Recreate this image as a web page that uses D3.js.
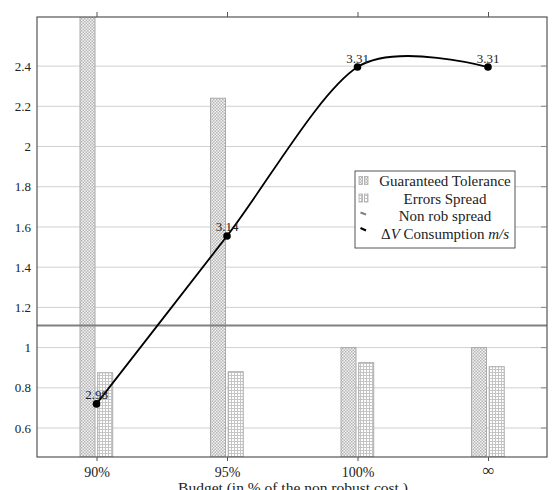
<!DOCTYPE html>
<html><head><meta charset="utf-8">
<script src="https://cdn.jsdelivr.net/npm/d3@7"></script>
<style>
body{margin:0;background:#fff;}
svg text{font-family:"Liberation Serif","DejaVu Serif",serif;fill:#222;}
</style></head>
<body><svg id="c" width="552" height="490"></svg>
<script>
const categories = ["90%", "95%", "100%", "∞"];
const guaranteedTolerance = [3.0, 2.24, 1.0, 1.0];
const errorsSpread = [0.875, 0.88, 0.925, 0.905];
const consumption = [0.72, 1.555, 2.395, 2.395];
const consumptionLabels = ["2.98", "3.14", "3.31", "3.31"];
const nonRobSpread = 1.11;
const yTicks = [0.6, 0.8, 1, 1.2, 1.4, 1.6, 1.8, 2, 2.2, 2.4];
const legendLabels = ["Guaranteed Tolerance", "Errors Spread", "Non rob spread", "ΔV Consumption m/s"];

const svg = d3.select("#c");
const L = 37, R = 547, T = 17, B = 457;
const x = d3.scalePoint().domain(categories).range([96.5, 488]);
const y = d3.scaleLinear().domain([0.456, 2.644]).range([B, T]);

const defs = svg.append("defs");
const p1 = defs.append("pattern").attr("id","dots").attr("width",3).attr("height",3).attr("patternUnits","userSpaceOnUse");
p1.append("rect").attr("width",3).attr("height",3).attr("fill","#f4f4f4");
p1.append("rect").attr("x",0).attr("y",0).attr("width",1.5).attr("height",1.5).attr("fill","#b4b4b4");
p1.append("rect").attr("x",1.5).attr("y",1.5).attr("width",1.5).attr("height",1.5).attr("fill","#b4b4b4");
const p2 = defs.append("pattern").attr("id","grid").attr("width",3).attr("height",3).attr("patternUnits","userSpaceOnUse");
p2.append("rect").attr("width",3).attr("height",3).attr("fill","#fff");
p2.append("path").attr("d","M0,0.5H3M0.5,0V3").attr("stroke","#c4c4c4").attr("stroke-width",1);
defs.append("clipPath").attr("id","clip").append("rect").attr("x",L).attr("y",T).attr("width",R-L).attr("height",B-T);

svg.append("g").selectAll("line").data(yTicks).join("line")
  .attr("x1",L).attr("x2",R).attr("y1",d=>y(d)).attr("y2",d=>y(d))
  .attr("stroke","#d0d0d0").attr("stroke-width",1);

const plot = svg.append("g").attr("clip-path","url(#clip)");
plot.selectAll("rect.gt").data(categories).join("rect").attr("class","gt")
  .attr("x",d=>x(d)-16.5).attr("width",15)
  .attr("y",(d,i)=>y(guaranteedTolerance[i])).attr("height",(d,i)=>B-y(guaranteedTolerance[i]))
  .attr("fill","url(#dots)").attr("stroke","#aaa").attr("stroke-width",1);
plot.selectAll("rect.es").data(categories).join("rect").attr("class","es")
  .attr("x",d=>x(d)+1.2).attr("width",15)
  .attr("y",(d,i)=>y(errorsSpread[i])).attr("height",(d,i)=>B-y(errorsSpread[i]))
  .attr("fill","url(#grid)").attr("stroke","#aaa").attr("stroke-width",1);

plot.append("line").attr("x1",L).attr("x2",R).attr("y1",y(nonRobSpread)).attr("y2",y(nonRobSpread))
  .attr("stroke","#808080").attr("stroke-width",2.2);

const pts = categories.map((c,i)=>[x(c), y(consumption[i])]);
plot.append("path").attr("d", d3.line().curve(d3.curveCardinal.tension(0.12))(pts))
  .attr("fill","none").attr("stroke","#000").attr("stroke-width",1.8);
plot.selectAll("circle").data(pts).join("circle")
  .attr("cx",d=>d[0]).attr("cy",d=>d[1]).attr("r",3.8).attr("fill","#000");
svg.append("g").selectAll("text").data(pts).join("text")
  .attr("x",d=>d[0]).attr("y",d=>d[1]-4.5).attr("text-anchor","middle")
  .attr("font-size",13).text((d,i)=>consumptionLabels[i]);

svg.append("rect").attr("x",L).attr("y",T).attr("width",R-L).attr("height",B-T)
  .attr("fill","none").attr("stroke","#555").attr("stroke-width",1.2);

const xb = d3.axisBottom(x).tickSize(4).tickPadding(6);
const gx = svg.append("g").attr("transform",`translate(0,${B})`).call(xb);
gx.select(".domain").remove();
gx.selectAll("line").attr("stroke","#555");
gx.selectAll("text").attr("fill","#222").attr("font-family","Liberation Serif")
  .attr("dy", d=> d==="∞" ? "0.5em" : "0.71em").style("font-size", d=> d==="∞" ? "17px" : "14px");
const gxt = svg.append("g").attr("transform",`translate(0,${T})`).call(d3.axisTop(x).tickSize(5).tickFormat(""));
gxt.select(".domain").remove();
gxt.selectAll("line").attr("stroke","#555");

const gy = svg.append("g").attr("transform",`translate(${L},0)`).call(d3.axisLeft(y).tickValues(yTicks).tickSize(0).tickPadding(6).tickFormat(d=>String(d)));
gy.select(".domain").remove();
gy.selectAll("text").attr("font-size",13).attr("fill","#222").attr("font-family","Liberation Serif");
svg.append("g").selectAll("line").data(yTicks).join("line")
  .attr("x1",R-6).attr("x2",R).attr("y1",d=>y(d)).attr("y2",d=>y(d)).attr("stroke","#888");

svg.append("text").attr("x",293).attr("y",493).attr("text-anchor","middle")
  .attr("font-size",15.5).text("Budget (in % of the non robust cost )");

const lg = svg.append("g").attr("transform","translate(355,171)");
lg.append("rect").attr("width",160).attr("height",77).attr("fill","#fff").attr("stroke","#555").attr("stroke-width",1);
const rowY = [10.5, 28, 45.5, 63];
lg.append("rect").attr("x",4).attr("y",rowY[0]-5).attr("width",3.5).attr("height",8).attr("fill","url(#dots)").attr("stroke","#aaa").attr("stroke-width",0.8);
lg.append("rect").attr("x",9.5).attr("y",rowY[0]-5).attr("width",3.5).attr("height",8).attr("fill","url(#dots)").attr("stroke","#aaa").attr("stroke-width",0.8);
lg.append("rect").attr("x",4).attr("y",rowY[1]-5).attr("width",3.5).attr("height",8).attr("fill","url(#grid)").attr("stroke","#aaa").attr("stroke-width",0.8);
lg.append("rect").attr("x",9.5).attr("y",rowY[1]-5).attr("width",3.5).attr("height",8).attr("fill","url(#grid)").attr("stroke","#aaa").attr("stroke-width",0.8);
lg.append("line").attr("x1",5.5).attr("y1",rowY[2]-4).attr("x2",11).attr("y2",rowY[2]-2).attr("stroke","#808080").attr("stroke-width",2);
lg.append("line").attr("x1",5.5).attr("y1",rowY[3]-6).attr("x2",11).attr("y2",rowY[3]-3.5).attr("stroke","#000").attr("stroke-width",2);
lg.selectAll("text").data(legendLabels).join("text")
  .attr("x",90).attr("y",(d,i)=>rowY[i]+4.5).attr("text-anchor","middle").attr("font-size",15)
  .each(function(d,i){
    const t=d3.select(this);
    if(i===3){
      t.append("tspan").text("Δ");
      t.append("tspan").attr("font-style","italic").text("V");
      t.append("tspan").text(" Consumption ");
      t.append("tspan").attr("font-style","italic").text("m/s");
    } else t.text(d);
  });
</script></body></html>
